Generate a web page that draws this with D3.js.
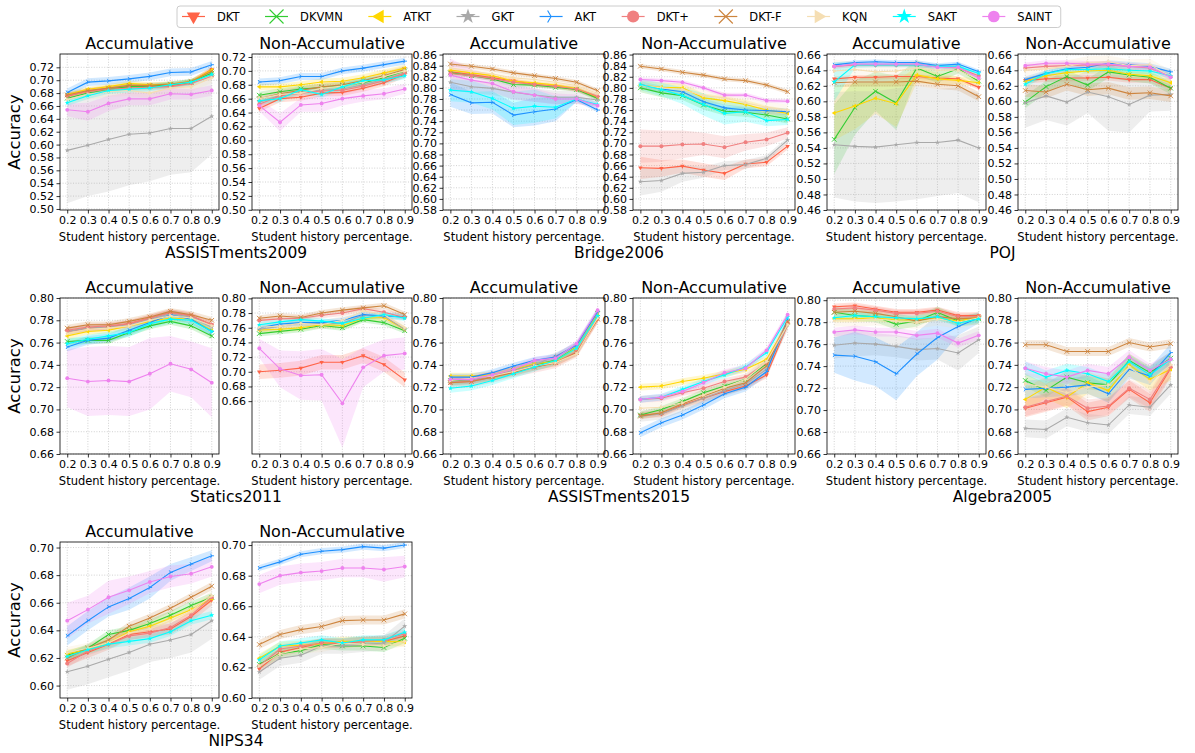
<!DOCTYPE html>
<html><head><meta charset="utf-8">
<script src="https://cdn.jsdelivr.net/npm/d3@7"></script>
<style>body{margin:0;background:#fff} text{font-family:"DejaVu Sans",sans-serif;fill:#000}</style>
</head><body><svg id="c" width="1195" height="753"></svg>
<script>
const models = ["DKT","DKVMN","ATKT","GKT","AKT","DKT+","DKT-F","KQN","SAKT","SAINT"];
const colors = ["#ff6347","#32cd32","#ffd700","#a9a9a9","#1e90ff","#f08080","#cd853f","#f5deb3","#00ffff","#ee82ee"];
const markers = ["v","x","<","*","4","8","x",">","*","o"];
const xValues = [0.2,0.3,0.4,0.5,0.6,0.7,0.8,0.9];
const xTickLabels = ["0.2","0.3","0.4","0.5","0.6","0.7","0.8","0.9"];
const datasets = ["ASSISTments2009","Bridge2006","POJ","Statics2011","ASSISTments2015","Algebra2005","NIPS34"];
const modes = ["Accumulative","Non-Accumulative"];

// ---- ASSISTments2009 ----
const A09_ACC = {
 "DKT":[0.675,0.683,0.687,0.690,0.690,0.691,0.697,0.717],
 "DKVMN":[0.672,0.680,0.686,0.690,0.691,0.693,0.697,0.711],
 "ATKT":[0.678,0.686,0.690,0.695,0.693,0.694,0.698,0.716],
 "GKT":[0.591,0.599,0.608,0.616,0.618,0.625,0.625,0.644],
 "AKT":[0.681,0.697,0.699,0.702,0.706,0.712,0.713,0.724],
 "DKT+":[0.676,0.682,0.686,0.688,0.689,0.690,0.695,0.706],
 "DKT-F":[0.677,0.684,0.688,0.692,0.692,0.694,0.698,0.714],
 "KQN":[0.670,0.678,0.682,0.684,0.680,0.688,0.690,0.704],
 "SAKT":[0.665,0.676,0.684,0.686,0.688,0.693,0.697,0.709],
 "SAINT":[0.654,0.651,0.664,0.671,0.671,0.679,0.678,0.684]};
const A09_ACC_SD = {"GKT":[0.082,0.079,0.081,0.079,0.075,0.072,0.068,0.059],"SAINT":[0.010,0.014,0.012,0.010,0.010,0.009,0.008,0.008],"AKT":0.006,"KQN":0.008,"SAKT":0.005};
const A09_NON = {
 "DKT":[0.646,0.660,0.662,0.668,0.669,0.675,0.683,0.695],
 "DKVMN":[0.665,0.670,0.674,0.676,0.679,0.683,0.690,0.700],
 "ATKT":[0.677,0.677,0.680,0.684,0.685,0.690,0.697,0.704],
 "GKT":[0.655,0.665,0.670,0.672,0.674,0.680,0.688,0.696],
 "AKT":[0.684,0.686,0.692,0.692,0.700,0.704,0.709,0.714],
 "DKT+":[0.652,0.664,0.668,0.671,0.672,0.678,0.686,0.697],
 "DKT-F":[0.660,0.667,0.672,0.677,0.680,0.686,0.693,0.702],
 "KQN":[0.660,0.666,0.668,0.675,0.678,0.684,0.692,0.700],
 "SAKT":[0.657,0.660,0.673,0.666,0.677,0.686,0.687,0.693],
 "SAINT":[0.650,0.626,0.651,0.653,0.660,0.664,0.667,0.674]};
const A09_NON_SD = {"GKT":0.006,"SAINT":[0.008,0.013,0.010,0.012,0.010,0.008,0.008,0.007],"KQN":0.008};
// ---- Bridge2006 ----
const BRI_ACC = {
 "DKT":[0.829,0.824,0.818,0.813,0.806,0.803,0.797,0.783],
 "DKVMN":[0.827,0.822,0.816,0.806,0.805,0.801,0.797,0.781],
 "ATKT":[0.832,0.827,0.822,0.812,0.809,0.805,0.799,0.784],
 "GKT":[0.810,0.802,0.799,0.792,0.787,0.783,0.783,0.778],
 "AKT":[0.788,0.773,0.774,0.751,0.757,0.762,0.779,0.760],
 "DKT+":[0.826,0.822,0.817,0.810,0.806,0.803,0.798,0.785],
 "DKT-F":[0.843,0.839,0.834,0.827,0.822,0.817,0.810,0.795],
 "KQN":[0.836,0.830,0.825,0.818,0.815,0.810,0.804,0.790],
 "SAKT":[0.796,0.793,0.781,0.763,0.767,0.765,0.780,0.770],
 "SAINT":[0.823,0.814,0.808,0.793,0.787,0.780,0.780,0.768]};
const BRI_ACC_SD = {"AKT":[0.022,0.020,0.020,0.022,0.025,0.022,0.004,0.004],"SAKT":[0.020,0.020,0.020,0.030,0.030,0.020,0.005,0.005],"GKT":0.012,"SAINT":[0.030,0.020,0.015,0.015,0.012,0.010,0.008,0.005],"KQN":0.006};
const BRI_NON = {
 "DKT":[0.656,0.655,0.659,0.652,0.646,0.663,0.666,0.695],
 "DKVMN":[0.800,0.791,0.786,0.769,0.758,0.756,0.751,0.744],
 "ATKT":[0.805,0.801,0.800,0.782,0.777,0.770,0.760,0.754],
 "GKT":[0.631,0.633,0.646,0.648,0.660,0.662,0.673,0.706],
 "AKT":[0.806,0.798,0.793,0.775,0.764,0.760,0.759,0.757],
 "DKT+":[0.695,0.695,0.698,0.699,0.693,0.702,0.707,0.719],
 "DKT-F":[0.839,0.834,0.828,0.823,0.816,0.813,0.805,0.793],
 "KQN":[0.805,0.800,0.797,0.786,0.782,0.773,0.765,0.760],
 "SAKT":[0.806,0.797,0.786,0.770,0.754,0.757,0.741,0.743],
 "SAINT":[0.815,0.813,0.810,0.800,0.787,0.787,0.777,0.776]};
const BRI_NON_SD = {"DKT+":[0.030,0.028,0.025,0.020,0.020,0.015,0.012,0.010],"DKT":[0.020,0.015,0.012,0.012,0.012,0.008,0.007,0.006],"GKT":[0.025,0.020,0.015,0.010,0.008,0.008,0.006,0.005],"SAKT":[0.010,0.012,0.015,0.020,0.020,0.018,0.010,0.010],"KQN":0.010,"ATKT":0.008,"DKVMN":0.008,"AKT":0.006};
// ---- POJ ----
const POJ_ACC = {
 "DKT":[0.629,0.631,0.631,0.632,0.632,0.630,0.629,0.618],
 "DKVMN":[0.551,0.592,0.613,0.598,0.643,0.632,0.642,0.626],
 "ATKT":[0.585,0.594,0.604,0.597,0.634,0.629,0.627,0.624],
 "GKT":[0.544,0.542,0.541,0.544,0.547,0.547,0.550,0.540],
 "AKT":[0.647,0.650,0.651,0.650,0.650,0.646,0.648,0.638],
 "DKT+":[0.645,0.647,0.647,0.647,0.647,0.645,0.643,0.633],
 "DKT-F":[0.624,0.625,0.625,0.625,0.626,0.622,0.620,0.606],
 "KQN":[0.639,0.641,0.638,0.639,0.643,0.640,0.640,0.628],
 "SAKT":[0.625,0.647,0.647,0.647,0.647,0.645,0.645,0.636],
 "SAINT":[0.645,0.648,0.648,0.648,0.648,0.644,0.644,0.630]};
const POJ_ACC_SD = {"GKT":[0.068,0.071,0.072,0.073,0.073,0.069,0.068,0.070],"DKVMN":[0.045,0.035,0.025,0.035,0.010,0.008,0.006,0.005],"ATKT":[0.035,0.030,0.020,0.030,0.010,0.008,0.005,0.005],"KQN":[0.015,0.010,0.010,0.010,0.010,0.006,0.006,0.006],"SAKT":[0.025,0.004,0.003,0.003,0.003,0.003,0.003,0.003],"DKT-F":0.006,"DKT":0.003};
const POJ_NON = {
 "DKT":[0.627,0.629,0.630,0.630,0.631,0.628,0.628,0.617],
 "DKVMN":[0.599,0.619,0.632,0.621,0.638,0.634,0.631,0.617],
 "ATKT":[0.626,0.633,0.637,0.639,0.640,0.635,0.633,0.624],
 "GKT":[0.598,0.607,0.599,0.612,0.606,0.596,0.608,0.609],
 "AKT":[0.628,0.636,0.642,0.644,0.649,0.647,0.645,0.638],
 "DKT+":[0.643,0.645,0.646,0.647,0.647,0.645,0.643,0.632],
 "DKT-F":[0.614,0.612,0.622,0.615,0.617,0.610,0.611,0.607],
 "KQN":[0.640,0.642,0.645,0.650,0.651,0.646,0.647,0.632],
 "SAKT":[0.622,0.636,0.641,0.641,0.642,0.640,0.639,0.633],
 "SAINT":[0.646,0.649,0.649,0.648,0.648,0.645,0.644,0.631]};
const POJ_NON_SD = {"GKT":[0.032,0.031,0.030,0.027,0.044,0.036,0.021,0.021],"DKVMN":0.008,"DKT-F":0.008,"KQN":0.008};
// ---- Statics2011 ----
const STA_ACC = {
 "DKT":[0.770,0.773,0.774,0.777,0.782,0.787,0.784,0.776],
 "DKVMN":[0.761,0.762,0.762,0.769,0.775,0.779,0.775,0.766],
 "ATKT":[0.766,0.770,0.771,0.775,0.779,0.782,0.781,0.771],
 "GKT":[0.770,0.773,0.774,0.776,0.781,0.786,0.783,0.774],
 "AKT":[0.756,0.762,0.764,0.771,0.778,0.785,0.781,0.770],
 "DKT+":[0.771,0.774,0.775,0.777,0.782,0.787,0.784,0.776],
 "DKT-F":[0.773,0.776,0.776,0.779,0.783,0.788,0.785,0.780],
 "KQN":[0.768,0.772,0.773,0.775,0.780,0.784,0.782,0.775],
 "SAKT":[0.759,0.763,0.766,0.769,0.777,0.781,0.780,0.770],
 "SAINT":[0.728,0.725,0.726,0.725,0.732,0.741,0.736,0.724]};
const STA_ACC_SD = {"SAINT":[0.026,0.031,0.031,0.031,0.032,0.025,0.025,0.031],"AKT":0.004,"SAKT":0.004};
const STA_NON = {
 "DKT":[0.700,0.702,0.705,0.713,0.713,0.722,0.710,0.689],
 "DKVMN":[0.752,0.755,0.758,0.763,0.760,0.771,0.767,0.756],
 "ATKT":[0.757,0.758,0.760,0.764,0.763,0.773,0.774,0.758],
 "GKT":[0.758,0.762,0.766,0.766,0.766,0.777,0.776,0.758],
 "AKT":[0.760,0.765,0.767,0.767,0.770,0.778,0.776,0.775],
 "DKT+":[0.770,0.772,0.773,0.777,0.780,0.786,0.781,0.774],
 "DKT-F":[0.773,0.776,0.774,0.780,0.784,0.787,0.790,0.778],
 "KQN":[0.761,0.762,0.766,0.764,0.770,0.783,0.778,0.760],
 "SAKT":[0.764,0.768,0.771,0.769,0.766,0.773,0.778,0.773],
 "SAINT":[0.732,0.704,0.695,0.696,0.657,0.706,0.722,0.725]};
const STA_NON_SD = {"SAINT":[0.013,0.025,0.033,0.035,0.060,0.027,0.022,0.022],"DKT":0.010,"KQN":0.006};
// ---- ASSISTments2015 ----
const A15_ACC = {
 "DKT":[0.725,0.726,0.729,0.734,0.738,0.742,0.751,0.781],
 "DKVMN":[0.726,0.727,0.730,0.735,0.740,0.744,0.756,0.786],
 "ATKT":[0.730,0.730,0.731,0.736,0.741,0.743,0.756,0.786],
 "GKT":[0.725,0.726,0.730,0.735,0.740,0.748,0.757,0.787],
 "AKT":[0.729,0.729,0.733,0.739,0.744,0.747,0.758,0.788],
 "DKT+":[0.724,0.725,0.729,0.734,0.738,0.742,0.752,0.782],
 "DKT-F":[0.724,0.725,0.729,0.733,0.738,0.742,0.751,0.781],
 "KQN":[0.726,0.728,0.730,0.734,0.739,0.742,0.750,0.782],
 "SAKT":[0.719,0.721,0.726,0.732,0.738,0.744,0.755,0.784],
 "SAINT":[0.727,0.727,0.731,0.736,0.744,0.746,0.759,0.789]};
const A15_ACC_SD = {"DKT+":0.005,"SAKT":0.004,"KQN":0.004};
const A15_NON = {
 "DKT":[0.695,0.696,0.704,0.710,0.716,0.721,0.731,0.776],
 "DKVMN":[0.695,0.700,0.707,0.715,0.721,0.727,0.741,0.778],
 "ATKT":[0.720,0.721,0.725,0.728,0.732,0.736,0.745,0.777],
 "GKT":[0.694,0.696,0.703,0.710,0.717,0.723,0.736,0.776],
 "AKT":[0.679,0.688,0.695,0.704,0.714,0.720,0.734,0.781],
 "DKT+":[0.709,0.710,0.715,0.719,0.725,0.729,0.742,0.778],
 "DKT-F":[0.694,0.697,0.705,0.712,0.719,0.724,0.739,0.779],
 "KQN":[0.701,0.702,0.706,0.713,0.720,0.727,0.743,0.776],
 "SAKT":[0.709,0.711,0.718,0.725,0.731,0.738,0.751,0.783],
 "SAINT":[0.709,0.711,0.716,0.724,0.733,0.737,0.753,0.785]};
const A15_NON_SD = {"AKT":0.004,"KQN":0.005,"GKT":0.005};
// ---- Algebra2005 ----
const ALG_ACC = {
 "DKT":[0.794,0.795,0.792,0.789,0.789,0.791,0.786,0.786],
 "DKVMN":[0.789,0.786,0.785,0.778,0.781,0.789,0.781,0.783],
 "ATKT":[0.783,0.783,0.784,0.782,0.782,0.784,0.781,0.785],
 "GKT":[0.759,0.761,0.760,0.758,0.755,0.756,0.752,0.764],
 "AKT":[0.750,0.749,0.744,0.733,0.751,0.766,0.776,0.784],
 "DKT+":[0.792,0.793,0.791,0.788,0.788,0.790,0.785,0.785],
 "DKT-F":[0.789,0.790,0.788,0.785,0.781,0.785,0.783,0.784],
 "KQN":[0.782,0.782,0.783,0.781,0.780,0.783,0.780,0.784],
 "SAKT":[0.784,0.786,0.785,0.784,0.783,0.785,0.779,0.783],
 "SAINT":[0.771,0.773,0.771,0.771,0.768,0.770,0.761,0.768]};
const ALG_ACC_SD = {"AKT":[0.016,0.022,0.022,0.024,0.020,0.020,0.008,0.005],"GKT":[0.012,0.012,0.010,0.010,0.010,0.010,0.016,0.012],"SAINT":0.004,"DKVMN":0.005,"KQN":0.006};
const ALG_NON = {
 "DKT":[0.701,0.706,0.711,0.698,0.702,0.718,0.706,0.737],
 "DKVMN":[0.726,0.717,0.729,0.724,0.722,0.744,0.733,0.746],
 "ATKT":[0.709,0.720,0.711,0.724,0.717,0.740,0.727,0.736],
 "GKT":[0.683,0.682,0.693,0.688,0.686,0.704,0.702,0.722],
 "AKT":[0.718,0.719,0.720,0.722,0.714,0.736,0.730,0.751],
 "DKT+":[0.702,0.707,0.712,0.701,0.703,0.719,0.709,0.738],
 "DKT-F":[0.758,0.758,0.752,0.752,0.752,0.760,0.756,0.759],
 "KQN":[0.723,0.720,0.715,0.720,0.722,0.738,0.725,0.740],
 "SAKT":[0.737,0.729,0.735,0.732,0.725,0.743,0.731,0.745],
 "SAINT":[0.737,0.732,0.729,0.735,0.732,0.747,0.735,0.745]};
const ALG_NON_SD = {"DKT+":0.008,"DKT":0.008,"GKT":0.008,"KQN":0.010,"ATKT":0.010,"AKT":0.008,"DKVMN":0.006,"SAKT":0.006,"SAINT":0.006,"DKT-F":0.004};
// ---- NIPS34 ----
const NIP_ACC = {
 "DKT":[0.618,0.624,0.630,0.637,0.639,0.641,0.650,0.662],
 "DKVMN":[0.622,0.627,0.637,0.640,0.645,0.651,0.658,0.664],
 "ATKT":[0.623,0.626,0.631,0.639,0.643,0.649,0.655,0.663],
 "GKT":[0.610,0.614,0.619,0.624,0.630,0.633,0.637,0.647],
 "AKT":[0.636,0.647,0.657,0.663,0.671,0.682,0.688,0.694],
 "DKT+":[0.616,0.625,0.630,0.636,0.638,0.642,0.651,0.664],
 "DKT-F":[0.620,0.627,0.633,0.643,0.649,0.656,0.664,0.672],
 "KQN":[0.624,0.627,0.631,0.638,0.641,0.647,0.654,0.665],
 "SAKT":[0.621,0.626,0.630,0.632,0.634,0.639,0.647,0.651],
 "SAINT":[0.647,0.655,0.664,0.669,0.675,0.679,0.681,0.686]};
const NIP_ACC_SD = {"GKT":0.013,"SAINT":[0.013,0.010,0.012,0.010,0.008,0.008,0.007,0.007],"AKT":[0.007,0.007,0.007,0.008,0.008,0.006,0.005,0.004],"KQN":0.004,"DKT":0.004};
const NIP_NON = {
 "DKT":[0.619,0.630,0.633,0.636,0.6355,0.637,0.637,0.6406],
 "DKVMN":[0.622,0.629,0.631,0.635,0.634,0.634,0.633,0.639],
 "ATKT":[0.626,0.634,0.6345,0.6355,0.637,0.637,0.637,0.6366],
 "GKT":[0.617,0.626,0.628,0.634,0.634,0.635,0.636,0.647],
 "AKT":[0.685,0.689,0.694,0.696,0.697,0.699,0.698,0.700],
 "DKT+":[0.621,0.632,0.634,0.636,0.636,0.637,0.638,0.642],
 "DKT-F":[0.635,0.6415,0.6447,0.6467,0.6506,0.651,0.651,0.655],
 "KQN":[0.621,0.629,0.632,0.633,0.636,0.635,0.634,0.637],
 "SAKT":[0.625,0.634,0.636,0.638,0.636,0.638,0.638,0.643],
 "SAINT":[0.6745,0.680,0.682,0.683,0.685,0.685,0.684,0.686]};
const NIP_NON_SD = {"SAINT":[0.006,0.006,0.006,0.006,0.006,0.006,0.008,0.007],"GKT":0.005,"AKT":0.002};

// y tick values per panel
const TICKS_A09 = d3.range(0.50, 0.7201, 0.02);
const TICKS_BRI = d3.range(0.58, 0.8601, 0.02);
const TICKS_POJ = d3.range(0.46, 0.6601, 0.02);
const TICKS_SUB = d3.range(0.66, 0.8001, 0.02);
const TICKS_NIP = d3.range(0.60, 0.7001, 0.02);

// layout
const colX = [[60,219],[252,412],[443,605],[633,795],[827,986],[1018,1178]];
const rowY = [54, 298, 542];
const H = 156;
const panels = [
 {r:0,c:0,ds:0,m:0,mean:A09_ACC,sd:A09_ACC_SD,def:0.004,yd:[0.4984,0.7407],ticks:TICKS_A09},
 {r:0,c:1,ds:0,m:1,mean:A09_NON,sd:A09_NON_SD,def:0.005,yd:[0.4997,0.7243],ticks:TICKS_A09},
 {r:0,c:2,ds:1,m:0,mean:BRI_ACC,sd:BRI_ACC_SD,def:0.004,yd:[0.58,0.861],ticks:TICKS_BRI},
 {r:0,c:3,ds:1,m:1,mean:BRI_NON,sd:BRI_NON_SD,def:0.004,yd:[0.58,0.861],ticks:TICKS_BRI},
 {r:0,c:4,ds:2,m:0,mean:POJ_ACC,sd:POJ_ACC_SD,def:0.003,yd:[0.46,0.661],ticks:TICKS_POJ},
 {r:0,c:5,ds:2,m:1,mean:POJ_NON,sd:POJ_NON_SD,def:0.004,yd:[0.46,0.661],ticks:TICKS_POJ},
 {r:1,c:0,ds:3,m:0,mean:STA_ACC,sd:STA_ACC_SD,def:0.003,yd:[0.66,0.80],ticks:TICKS_SUB},
 {r:1,c:1,ds:3,m:1,mean:STA_NON,sd:STA_NON_SD,def:0.004,yd:[0.588,0.8005],ticks:TICKS_SUB},
 {r:1,c:2,ds:4,m:0,mean:A15_ACC,sd:A15_ACC_SD,def:0.003,yd:[0.66,0.80],ticks:TICKS_SUB},
 {r:1,c:3,ds:4,m:1,mean:A15_NON,sd:A15_NON_SD,def:0.003,yd:[0.66,0.80],ticks:TICKS_SUB},
 {r:1,c:4,ds:5,m:0,mean:ALG_ACC,sd:ALG_ACC_SD,def:0.003,yd:[0.66,0.802],ticks:TICKS_SUB},
 {r:1,c:5,ds:5,m:1,mean:ALG_NON,sd:ALG_NON_SD,def:0.005,yd:[0.66,0.80],ticks:TICKS_SUB},
 {r:2,c:0,ds:6,m:0,mean:NIP_ACC,sd:NIP_ACC_SD,def:0.003,yd:[0.591,0.704],ticks:TICKS_NIP},
 {r:2,c:1,ds:6,m:1,mean:NIP_NON,sd:NIP_NON_SD,def:0.003,yd:[0.60,0.702],ticks:TICKS_NIP}
];

const svg = d3.select("#c");
svg.append("rect").attr("width",1195).attr("height",753).attr("fill","#fff");

function markerPath(type, r){
  switch(type){
    case "v": return d3.symbol(d3.symbolTriangle, r*r*1.6)();
    case "<": return d3.symbol(d3.symbolTriangle, r*r*1.6)();
    case ">": return d3.symbol(d3.symbolTriangle, r*r*1.6)();
    case "*": return d3.symbol(d3.symbolStar, r*r*1.5)();
    case "8": return d3.symbol(d3.symbolCircle, r*r*2.4)();
    case "o": return d3.symbol(d3.symbolCircle, r*r*2.2)();
    case "x": return `M${-r},${-r}L${r},${r}M${-r},${r}L${r},${-r}`;
    case "4": return `M0,0L${r},0M0,0L${-r*0.5},${-r*0.866}M0,0L${-r*0.5},${r*0.866}`;
  }
}
function markerRot(type){ return type==="v"?180:(type==="<"?-90:(type===">"?90:0)); }
function isStroke(type){ return type==="x"||type==="4"; }

function drawMarker(g, type, color, x, y, r, sw){
  const p = g.append("path").attr("d", markerPath(type, r))
    .attr("transform", `translate(${x},${y}) rotate(${markerRot(type)})`);
  if(isStroke(type)) p.attr("fill","none").attr("stroke",color).attr("stroke-width",sw);
  else p.attr("fill",color).attr("stroke","none");
}

panels.forEach((p,pi)=>{
  const [x0,x1] = colX[p.c];
  const y0 = rowY[p.r], y1 = y0 + H;
  const x = d3.scaleLinear().domain([0.165,0.935]).range([x0,x1]);
  const y = d3.scaleLinear().domain(p.yd).range([y1,y0]);
  const g = svg.append("g");
  const clipId = "clip"+pi;
  svg.append("clipPath").attr("id",clipId).append("rect")
    .attr("x",x0).attr("y",y0).attr("width",x1-x0).attr("height",H);
  // grid
  const grid = g.append("g").attr("stroke","#b0b0b0").attr("stroke-width",0.8)
    .attr("stroke-dasharray","1,1.6").attr("opacity",0.7);
  xValues.forEach(v=>grid.append("line").attr("x1",x(v)).attr("x2",x(v)).attr("y1",y0).attr("y2",y1));
  p.ticks.forEach(v=>grid.append("line").attr("x1",x0).attr("x2",x1).attr("y1",y(v)).attr("y2",y(v)));
  // series
  const plot = g.append("g").attr("clip-path",`url(#${clipId})`);
  models.forEach((m,mi)=>{
    const vals = p.mean[m];
    const s = p.sd[m]===undefined ? p.def : p.sd[m];
    const sdv = i => Array.isArray(s) ? s[i] : s;
    const area = d3.area().x((d,i)=>x(xValues[i])).y0((d,i)=>y(d - sdv(i))).y1((d,i)=>y(d + sdv(i)));
    plot.append("path").attr("d",area(vals)).attr("fill",colors[mi]).attr("fill-opacity",0.2).attr("stroke","none");
  });
  models.forEach((m,mi)=>{
    const vals = p.mean[m];
    const line = d3.line().x((d,i)=>x(xValues[i])).y(d=>y(d));
    plot.append("path").attr("d",line(vals)).attr("fill","none").attr("stroke",colors[mi]).attr("stroke-width",1.1);
    vals.forEach((v,i)=>drawMarker(plot, markers[mi], colors[mi], x(xValues[i]), y(v), 2.3, 0.9));
  });
  // axes
  const xa = d3.axisBottom(x).tickValues(xValues).tickFormat((d,i)=>xTickLabels[i]).tickSize(3.5).tickPadding(2.5);
  const ya = d3.axisLeft(y).tickValues(p.ticks).tickFormat(d3.format(".2f")).tickSize(3.5).tickPadding(2.5);
  const gx = g.append("g").attr("transform",`translate(0,${y1})`).call(xa);
  const gy = g.append("g").attr("transform",`translate(${x0},0)`).call(ya);
  [gx,gy].forEach(a=>{
    a.select(".domain").remove();
    a.selectAll("line").attr("stroke","#000").attr("stroke-width",0.8);
    a.selectAll("text").attr("font-size",11).attr("font-family","DejaVu Sans").attr("fill","#000");
  });
  g.append("rect").attr("x",x0).attr("y",y0).attr("width",x1-x0).attr("height",H)
    .attr("fill","none").attr("stroke","#000").attr("stroke-width",0.8);
  // title
  g.append("text").attr("x",(x0+x1)/2).attr("y",y0-5).attr("text-anchor","middle")
    .attr("font-size",16).text(modes[p.m]);
  g.append("text").attr("x",(x0+x1)/2).attr("y",y1+31).attr("text-anchor","middle")
    .attr("font-size",11.5).text("Student history percentage.");
  if(p.c===0){
    g.append("text").attr("transform",`translate(20,${(y0+y1)/2}) rotate(-90)`).attr("text-anchor","middle")
      .attr("font-size",16.5).text("Accuracy");
  }
  if(p.m===1){
    const cx = (colX[p.c-1][0]+x1)/2;
    g.append("text").attr("x",cx).attr("y",y1+48).attr("text-anchor","middle")
      .attr("font-size",15.5).text(datasets[p.ds]);
  }
});

// legend
const lg = svg.append("g");
const frame = lg.append("rect").attr("y",6).attr("height",21.5).attr("rx",3)
  .attr("fill","#fff").attr("stroke","#cccccc").attr("stroke-width",1);
let lx = 182;
const ly = 16.5;
models.forEach((m,mi)=>{
  lg.append("line").attr("x1",lx).attr("x2",lx+23).attr("y1",ly).attr("y2",ly)
    .attr("stroke",colors[mi]).attr("stroke-width",1.2);
  drawMarker(lg, markers[mi], colors[mi], lx+11.5, ly, 7, 1.1);
  const t = lg.append("text").attr("x",lx+35).attr("y",ly+4).attr("font-size",11.5).text(m);
  lx = lx + 35 + t.node().getComputedTextLength() + 25.5;
});
frame.attr("x",177).attr("width",lx-25.5+9-177);
</script></body></html>
